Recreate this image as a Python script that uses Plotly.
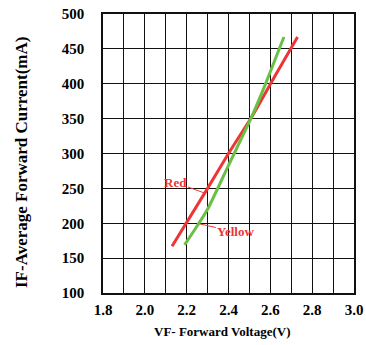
import plotly.graph_objects as go

red_v = [2.13, 2.30, 2.40, 2.51, 2.62, 2.73]
red_i = [167, 250, 300, 352, 410, 467]
yellow_v = [2.19, 2.25, 2.30, 2.40, 2.51, 2.58, 2.64, 2.665]
yellow_i = [169, 196, 220, 283, 352, 402, 448, 467]

x_ticks = [1.8, 2.0, 2.2, 2.4, 2.6, 2.8, 3.0]
y_ticks = [100, 150, 200, 250, 300, 350, 400, 450, 500]

RED = "#ee3535"
GREEN = "#6abf45"
FONT = "Liberation Serif"

fig = go.Figure()
fig.add_trace(go.Scatter(x=red_v, y=red_i, mode="lines",
                         line=dict(color=RED, width=3, shape="spline", smoothing=0.6),
                         showlegend=False))
fig.add_trace(go.Scatter(x=yellow_v, y=yellow_i, mode="lines",
                         line=dict(color=GREEN, width=3, shape="spline", smoothing=0.6),
                         showlegend=False))

fig.update_layout(
    width=366, height=345,
    margin=dict(l=103, r=12, t=14, b=52),
    paper_bgcolor="white", plot_bgcolor="white",
    font=dict(family=FONT, color="black"),
    xaxis=dict(range=[1.8, 3.0], tickvals=x_ticks, automargin=False,
               ticktext=[f"{v:.1f}" for v in x_ticks],
               showgrid=True, gridcolor="#111", gridwidth=1.4,
               minor=dict(dtick=0.1, tick0=1.8, showgrid=True, gridcolor="#111", gridwidth=1.4),
               showline=True, linecolor="#111", linewidth=1.6, mirror=True,
               ticks="", zeroline=False, ticklabelstandoff=2,
               tickfont=dict(family=FONT, size=15, color="black", weight="bold")),
    yaxis=dict(range=[100, 500], tickvals=y_ticks, automargin=False,
               showgrid=True, gridcolor="#111", gridwidth=1.4,
               showline=True, linecolor="#111", linewidth=1.6, mirror=True,
               ticks="", zeroline=False, ticklabelstandoff=14,
               tickfont=dict(family=FONT, size=15, color="black", weight="bold")),
    annotations=[
        dict(text="<b>VF- Forward Voltage(V)</b>", xref="paper", yref="paper",
             x=(222 - 103) / 251, y=-(331 - 293) / 279, showarrow=False,
             xanchor="center", yanchor="middle",
             font=dict(family=FONT, size=13, color="black")),
        dict(text="<b>IF-Average Forward Current(mA)</b>", xref="paper", yref="paper",
             x=-(103 - 21) / 251, y=(293 - 163) / 279, showarrow=False, textangle=-90,
             xanchor="center", yanchor="middle",
             font=dict(family=FONT, size=17, color="black")),
        dict(text="<b>Red</b>", x=2.288, y=243, ax=-30, ay=-11,
             showarrow=True, arrowhead=0, arrowwidth=1, arrowcolor=RED,
             font=dict(family=FONT, size=13, color=RED)),
        dict(text="<b>Yellow</b>", x=2.263, y=199, ax=36, ay=8,
             showarrow=True, arrowhead=0, arrowwidth=1, arrowcolor=RED,
             font=dict(family=FONT, size=13, color=RED)),
    ],
)

fig.write_html("out.html", config={"displayModeBar": False},
               post_script="document.body.style.margin='0';")
